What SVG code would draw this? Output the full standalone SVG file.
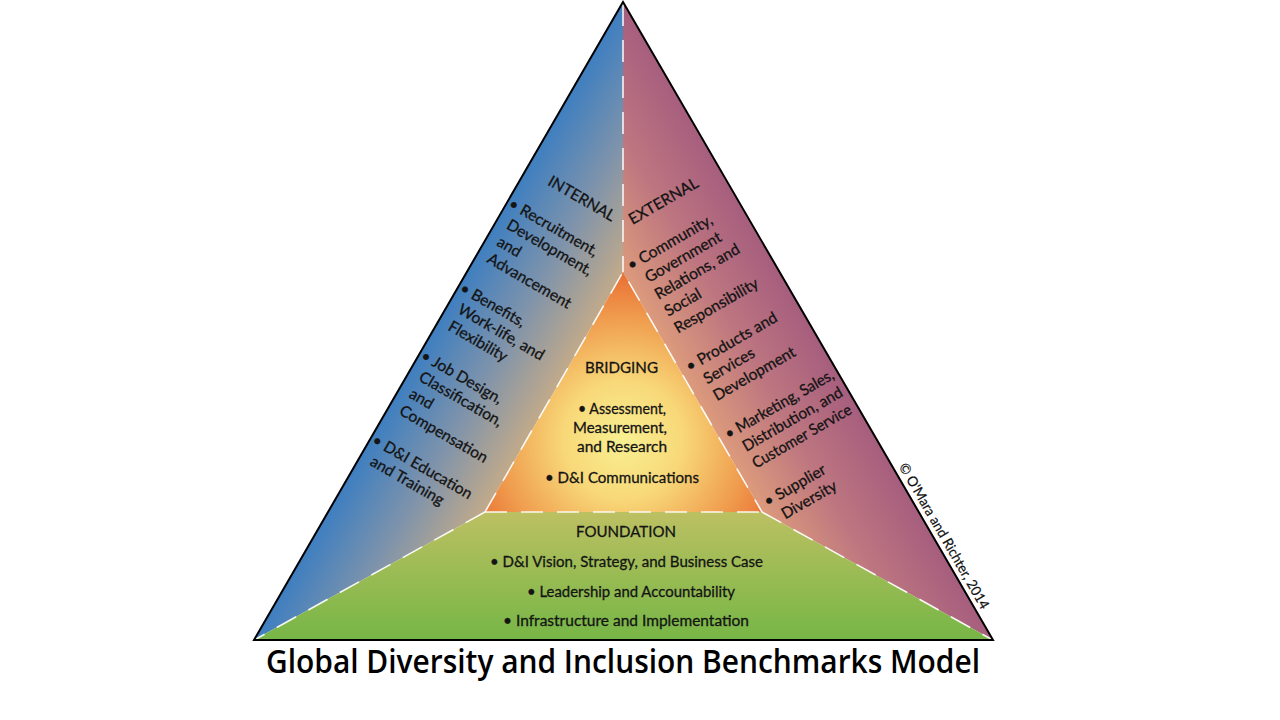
<svg xmlns="http://www.w3.org/2000/svg" width="1280" height="720" viewBox="0 0 1280 720">
<style>
.pt{font-family:Lato,"Open Sans","DejaVu Sans",sans-serif;font-size:15.6px;fill:#141414;stroke:#141414;stroke-width:0.3}
.ct{font-family:Lato,"Open Sans","DejaVu Sans",sans-serif;font-size:15.5px;fill:#141414;stroke:#141414;stroke-width:0.3;text-anchor:middle}
.dash{fill:none;stroke:#ffffff;stroke-width:1.6;stroke-dasharray:22 14;opacity:0.9}
.title{font-family:"Open Sans",Lato,sans-serif;font-size:32px;font-weight:600;fill:#000;text-anchor:middle}
.copy{font-family:Lato,"Open Sans",sans-serif;font-size:14px;fill:#111;stroke:#111;stroke-width:0.2}
</style>
<defs>
<linearGradient id="gL" gradientUnits="userSpaceOnUse" x1="440" y1="320" x2="557" y2="387.5">
<stop offset="0" stop-color="#3f7fc0"/>
<stop offset="0.5" stop-color="#7e93ab"/>
<stop offset="1" stop-color="#c2aa8a"/>
</linearGradient>
<linearGradient id="gR" gradientUnits="userSpaceOnUse" x1="807" y1="320" x2="690" y2="387.5">
<stop offset="0" stop-color="#a65e7e"/>
<stop offset="0.5" stop-color="#bd7680"/>
<stop offset="1" stop-color="#dc9a7c"/>
</linearGradient>
<radialGradient id="gB" gradientUnits="userSpaceOnUse" cx="623" cy="440" r="170">
<stop offset="0" stop-color="#f8f092"/>
<stop offset="0.35" stop-color="#f8d878"/>
<stop offset="0.7" stop-color="#f0a050"/>
<stop offset="1" stop-color="#e86c32"/>
</radialGradient>
<linearGradient id="gF" gradientUnits="userSpaceOnUse" x1="0" y1="512" x2="0" y2="640">
<stop offset="0" stop-color="#bcc062"/>
<stop offset="1" stop-color="#76b646"/>
</linearGradient>
</defs>

<g id="internal">
<polygon points="623,2 623,272 485,512 254,640" fill="url(#gL)"/>
<text class="pt" transform="translate(507.4,206.7) rotate(30)">
<tspan x="23" y="-39">INTERNAL</tspan>
<tspan x="0" y="0">• Recruitment,</tspan>
<tspan x="9" y="19.5">Development,</tspan>
<tspan x="9" y="39">and</tspan>
<tspan x="9" y="58.5">Advancement</tspan>
<tspan x="0" y="97.5">• Benefits,</tspan>
<tspan x="9" y="117">Work-life, and</tspan>
<tspan x="9" y="136.5">Flexibility</tspan>
<tspan x="0" y="175.5">• Job Design,</tspan>
<tspan x="9" y="195">Classification,</tspan>
<tspan x="9" y="214.5">and</tspan>
<tspan x="9" y="234">Compensation</tspan>
<tspan x="0" y="273">• D&amp;I Education</tspan>
<tspan x="9" y="292.5">and Training</tspan>
</text>
</g>

<g id="external">
<polygon points="623,2 993,640 762,512 623,272" fill="url(#gR)"/>
<g class="pt" transform="translate(631.1,270.7) rotate(-30)">
<text x="24" y="-39">EXTERNAL</text>
<text x="0" y="0">• Community,</text>
<text x="9" y="19.5">Government</text>
<text x="9" y="39">Relations, and</text>
<text x="9" y="58.5">Social</text>
<text x="9" y="78">Responsibility</text>
<text x="0" y="117">• Products and</text>
<text x="9" y="136.5">Services</text>
<text x="9" y="156">Development</text>
<text x="0" y="195" textLength="123" lengthAdjust="spacingAndGlyphs">• Marketing, Sales,</text>
<text x="9" y="214.5" textLength="113" lengthAdjust="spacingAndGlyphs">Distribution, and</text>
<text x="9" y="234" textLength="112" lengthAdjust="spacingAndGlyphs">Customer Service</text>
<text x="0" y="273">• Supplier</text>
<text x="9" y="292.5">Diversity</text>
</g>
</g>

<g id="bridging">
<polygon points="623,272 762,512 485,512" fill="url(#gB)"/>
<text class="ct" x="621.5" y="373" textLength="73" lengthAdjust="spacingAndGlyphs">BRIDGING</text>
<text class="ct" x="622" y="414" textLength="88" lengthAdjust="spacingAndGlyphs">• Assessment,</text>
<text class="ct" x="620" y="433" textLength="94" lengthAdjust="spacingAndGlyphs">Measurement,</text>
<text class="ct" x="622" y="452" textLength="90" lengthAdjust="spacingAndGlyphs">and Research</text>
<text class="ct" x="622" y="483" textLength="154" lengthAdjust="spacingAndGlyphs">• D&amp;I Communications</text>
</g>

<g id="foundation">
<polygon points="485,512 762,512 993,640 254,640" fill="url(#gF)"/>
<text class="ct" x="626" y="537" textLength="100" lengthAdjust="spacingAndGlyphs">FOUNDATION</text>
<text class="ct" x="626.5" y="567" textLength="273" lengthAdjust="spacingAndGlyphs">• D&amp;I Vision, Strategy, and Business Case</text>
<text class="ct" x="631" y="597" textLength="208" lengthAdjust="spacingAndGlyphs">• Leadership and Accountability</text>
<text class="ct" x="626" y="626" textLength="246" lengthAdjust="spacingAndGlyphs">• Infrastructure and Implementation</text>
</g>

<g id="connectors">
<line class="dash" x1="623" y1="4" x2="623" y2="272"/>
<polyline class="dash" points="485,512 623,272 762,512"/>
<line class="dash" x1="485" y1="512" x2="762" y2="512"/>
<line class="dash" x1="485" y1="512" x2="256" y2="639"/>
<line class="dash" x1="762" y1="512" x2="991" y2="639"/>
<path d="M254,640 L623,2 L993,640 Z" fill="none" stroke="#000" stroke-width="2" stroke-linejoin="miter"/>
</g>

<g id="copyright">
<text class="copy" transform="translate(898.5,466.5) rotate(60)" x="0" y="0" textLength="166" lengthAdjust="spacingAndGlyphs">© O'Mara and Richter, 2014</text>
</g>

<g id="title">
<text class="title" x="623" y="673" textLength="714" lengthAdjust="spacingAndGlyphs">Global Diversity and Inclusion Benchmarks Model</text>
</g>
</svg>
